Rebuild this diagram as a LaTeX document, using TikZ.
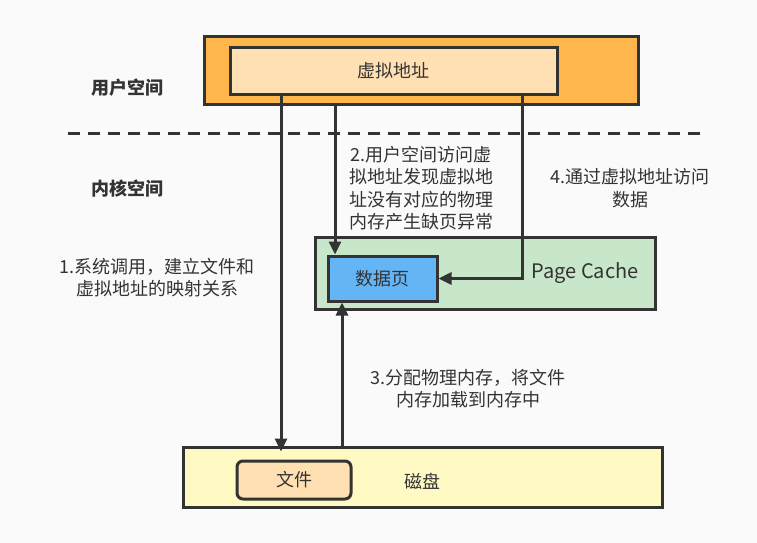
\documentclass[tikz,border=0pt]{standalone}
\usepackage{fontspec}
\setmainfont{Noto Sans CJK SC}
\usetikzlibrary{arrows.meta}
\definecolor{bg}{RGB}{250,250,250}
\definecolor{ln}{RGB}{51,51,51}
\definecolor{orng}{RGB}{255,183,77}
\definecolor{peach}{RGB}{255,224,178}
\definecolor{grn}{RGB}{200,230,201}
\definecolor{blu}{RGB}{100,181,246}
\definecolor{yel}{RGB}{255,249,196}
\begin{document}
\begin{tikzpicture}[x=1pt,y=-1pt, font=\fontsize{18}{22.5}\selectfont, text=ln,
  box/.style={draw=ln, line width=3pt, inner sep=0pt},
  arr/.style={draw=ln, line width=3pt, -{Triangle[length=13pt,width=12pt]}},
  lbl/.style={align=center, text=ln, inner sep=0pt}]
\path[use as bounding box, fill=bg] (0,0) rectangle (757,543);

% boxes
\node[box, fill=orng, minimum width=434pt, minimum height=67pt] (outer) at (421,70.5) {};
\node[box, fill=peach, minimum width=327pt, minimum height=46pt] (vaddr) at (393.5,71) {虚拟地址};
\node[box, fill=grn, minimum width=340pt, minimum height=72pt] (pc) at (485,273) {};
\node[lbl, font=\fontsize{20}{24}\selectfont] (pctext) at (585,273) {Page Cache};
\node[box, fill=blu, minimum width=109pt, minimum height=45pt] (dpage) at (382.5,278.5) {数据页};
\node[box, fill=yel, minimum width=479pt, minimum height=60pt] (disk) at (422.5,477) {};
\node[lbl] (disktext) at (422,481) {磁盘};
\node[box, fill=peach, rounded corners=6pt, minimum width=114pt, minimum height=38pt] (file) at (294,480) {文件};

% dashed separator
\coordinate (dl) at (68,133);
\coordinate (dr) at (706,133);
\draw[ln, line width=3pt, dash pattern=on 12pt off 8pt] (dl) -- (dr);

% side labels
\node[lbl, font=\fontsize{18}{22.5}\selectfont\bfseries] (us) at (127,88) {用户空间};
\node[lbl, font=\fontsize{18}{22.5}\selectfont\bfseries] (ks) at (127,189) {内核空间};

% step labels
\node[lbl] (l1) at (157,277.5) {1.系统调用，建立文件和\\虚拟地址的映射关系};
\node[lbl] (l2) at (421,188) {2.用户空间访问虚\\拟地址发现虚拟地\\址没有对应的物理\\内存产生缺页异常};
\node[lbl] (l3) at (468,388.5) {3.分配物理内存，将文件\\内存加载到内存中};
\node[lbl] (l4) at (630,188) {4.通过虚拟地址访问\\数据};

% arrows
\coordinate (x1) at (281,0);
\coordinate (x2) at (335,0);
\coordinate (x3) at (342,0);
\coordinate (x4) at (522,0);
\draw[arr] (vaddr.south -| x1) -- ([yshift=8pt]file.north -| x1);
\draw[arr] (outer.south -| x2) -- (dpage.north -| x2);
\draw[arr] (disk.north -| x3) -- (dpage.south -| x3);
\draw[arr] (vaddr.south -| x4) |- (dpage.east);
\end{tikzpicture}
\end{document}
